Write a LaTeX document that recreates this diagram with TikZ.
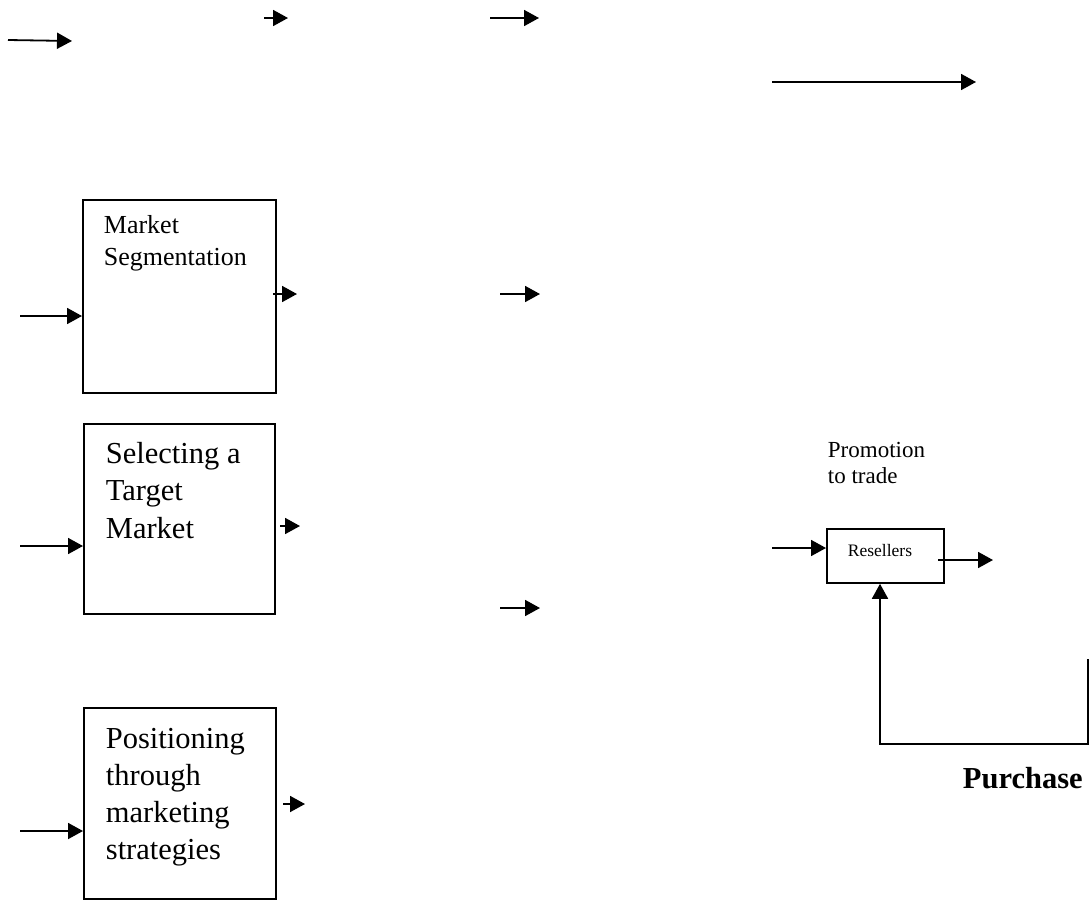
\documentclass[tikz,border=0pt]{standalone}
\usepackage{fontspec}
\setmainfont{Liberation Serif}
\usetikzlibrary{arrows.meta}
\begin{document}
\begin{tikzpicture}[x=1pt,y=-1pt,
  line width=1.8pt,
  arr/.style={-{Triangle[length=15pt,width=16pt]}},
  stagebox/.style={draw, inner sep=0pt, anchor=north west},
  label/.style={anchor=base west, inner sep=0pt, align=left},
]
\useasboundingbox (0,0) rectangle (1089,900);

% --- stray flow arrows along the top ---
\coordinate (t1a) at (8,40);    \coordinate (t1b) at (72,41);
\coordinate (t2a) at (264,18);  \coordinate (t2b) at (288,18);
\coordinate (t3a) at (490,18);  \coordinate (t3b) at (539,18);
\coordinate (t4a) at (772,82);  \coordinate (t4b) at (976,82);
\draw[arr] (t1a) -- (t1b);
\draw[arr] (t2a) -- (t2b);
\draw[arr] (t3a) -- (t3b);
\draw[arr] (t4a) -- (t4b);

% --- middle column arrows ---
\coordinate (m1a) at (500,294); \coordinate (m1b) at (540,294);
\coordinate (m2a) at (500,608); \coordinate (m2b) at (540,608);
\draw[arr] (m1a) -- (m1b);
\draw[arr] (m2a) -- (m2b);

% --- left column: the three stages (labels anchored at their last baseline) ---
\node (seg) [stagebox, minimum width=193pt, minimum height=193pt] at (82,199) {};
\node (segtxt) [label, font=\fontsize{26}{32}\selectfont] at (103,265) {Market\\Segmentation};

\node (tgt) [stagebox, minimum width=191pt, minimum height=190pt] at (83,423) {};
\node (tgttxt) [label, font=\fontsize{30.5}{37.5}\selectfont] at (105,538) {Selecting a\\Target\\Market};

\node (pos) [stagebox, minimum width=192pt, minimum height=191pt] at (83,707) {};
\node (postxt) [label, font=\fontsize{30.5}{37}\selectfont] at (105,859) {Positioning\\through\\marketing\\strategies};

% inputs
\coordinate (i1) at (20,316);
\coordinate (i2) at (20,546);
\coordinate (i3) at (20,831);
\draw[arr] (i1) -- (i1 -| seg.west);
\draw[arr] (i2) -- (i2 -| tgt.west);
\draw[arr] (i3) -- (i3 -| pos.west);

% outputs
\coordinate (o1a) at (273,294); \coordinate (o1b) at (297,294);
\coordinate (o2a) at (280,526); \coordinate (o2b) at (300,526);
\coordinate (o3a) at (283,804); \coordinate (o3b) at (305,804);
\draw[arr] (o1a) -- (o1b);
\draw[arr] (o2a) -- (o2b);
\draw[arr] (o3a) -- (o3b);

% --- right side: resellers ---
\node (prom) [label, font=\fontsize{23}{26}\selectfont] at (827,483) {Promotion\\to trade};
\node (res) [stagebox, minimum width=117pt, minimum height=54pt] at (826,528) {};
\node (restxt) [anchor=base west, inner sep=0pt, font=\fontsize{17.5}{21}\selectfont] at (847,556) {Resellers};

\coordinate (ri) at (772,548);
\draw[arr] (ri) -- (ri -| res.west);
\coordinate (roa) at (938,560); \coordinate (rob) at (993,560);
\draw[arr] (roa) -- (rob);

% purchase feedback loop
\coordinate (fbtop) at (1088,659);
\coordinate (fbr) at (1088,744);
\coordinate (fbl) at (880,744);
\draw[arr] (fbtop) -- (fbr) -- (fbl) -- (fbl |- res.south);
\node (purch) [anchor=base west, inner sep=0pt, font=\bfseries\fontsize{30.5}{36}\selectfont] at (962,788) {Purchase};
\end{tikzpicture}
\end{document}
